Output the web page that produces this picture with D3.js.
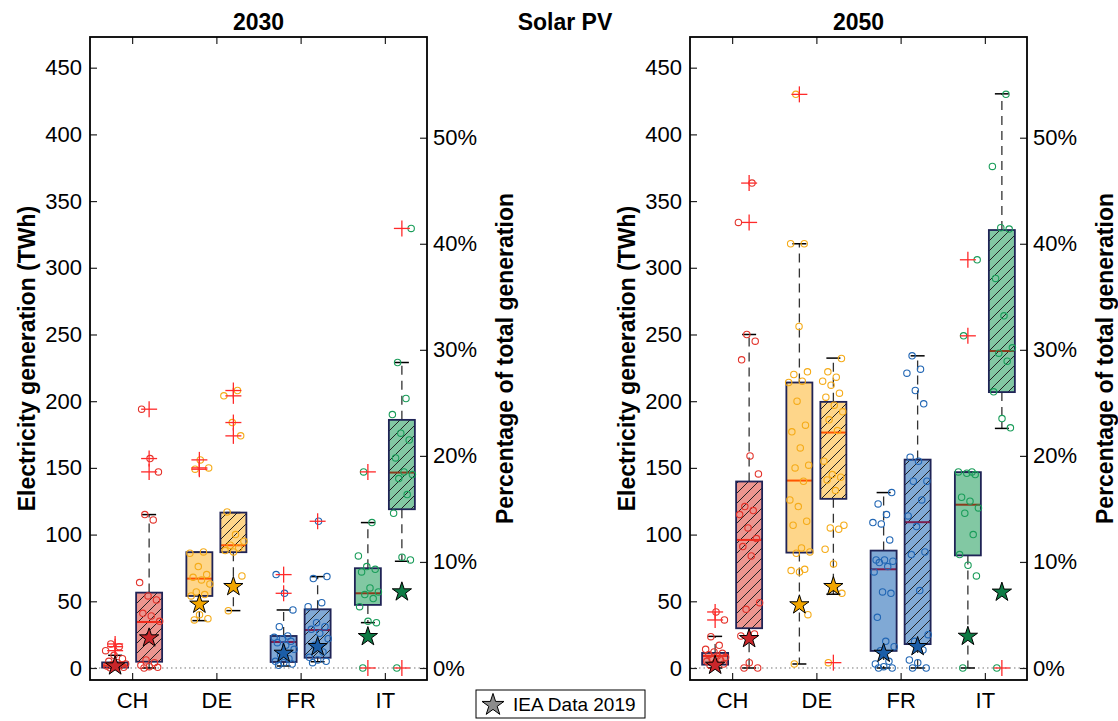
<!DOCTYPE html>
<html>
<head>
<meta charset="utf-8">
<script src="https://cdn.jsdelivr.net/npm/d3@7"></script>
<style>
  body { margin: 0; background: #fff; }
  svg text { font-family: "Liberation Sans", Arial, Helvetica, sans-serif; fill: #000; }
</style>
</head>
<body>
<svg id="chart" width="1118" height="721"></svg>
<script>
// categories and axis ticks
const countries = ["CH", "DE", "FR", "IT"];
const yTicks = [0, 50, 100, 150, 200, 250, 300, 350, 400, 450];
const pctTicks = [0, 10, 20, 30, 40, 50];
const totalGen = 795; // TWh that equals 100 %

// box stats per country: [whisker low, q1, median, q3, whisker high]
// "A" = plain box, "B" = hatched box
const box2030A = [[0, 0.3, 1.8, 4.2, 9.5], [35.5, 54, 67, 86.8, 86.8], [1.5, 4.5, 19.5, 24, 43.5], [34, 47.3, 56, 74.8, 109]];
const box2030B = [[0, 4.7, 34.5, 56.5, 115], [43, 86.8, 92, 116.5, 116.5], [4.7, 7.7, 28.5, 44, 68.5], [80, 119, 146.5, 186, 229]];
const box2050A = [[0, 2.5, 9, 11.3, 23.7], [3, 86.5, 140.5, 214, 318], [0, 12.8, 74, 88, 131.5], [0, 84.4, 122.4, 146.8, 146.8]];
const box2050B = [[0, 29.8, 96, 139.8, 250], [55.3, 126.8, 176.5, 199.5, 232.3], [0, 17.9, 109.3, 156.2, 234], [179.6, 206.8, 237.6, 328.3, 430.4]];

// outliers (red crosses)
const out2030A = [[18, 16, 13], [156, 150, 149], [70, 56], [147, 0]];
const out2030B = [[194, 157, 147], [208, 204, 184, 174], [110], [329.5, 0]];
const out2050A = [[42, 36], [430], [], [306, 249]];
const out2050B = [[363.5, 334], [4], [], [0]];

// scenario values (circles)
const pts2030A = [
  [0.2, 0.5, 1, 1.5, 2, 2.5, 3, 4, 5, 7, 9.5, 13, 16, 18],
  [36, 37, 40, 54, 55, 57, 63, 66, 68, 70, 76, 86, 87, 149, 150, 156],
  [2, 3, 4, 5, 7, 10, 14, 17, 19, 20, 22, 23, 24, 31, 43.5, 56, 70],
  [0, 34, 35, 46, 52, 55, 57, 60, 72, 74, 76, 84, 109, 147]
];
const pts2030B = [
  [0, 0.5, 1, 2, 4, 6, 35, 39, 41, 51, 54, 64, 111, 115, 147, 157, 194],
  [43, 69, 87, 88, 90, 92, 95, 100, 117, 174, 184, 204, 208],
  [4, 5, 6, 8, 12, 17, 22, 26, 29, 31, 34, 46, 49, 67, 68.5, 110],
  [0, 81, 83, 116, 130, 142, 145, 147, 157.5, 171, 176, 190, 202, 229, 329.5]
];
const pts2050A = [
  [2, 3, 4, 5, 6, 7, 8, 9, 10, 11, 12, 14, 17, 23.5, 36, 42],
  [3, 40, 72, 73, 74, 86, 87, 90, 107, 110, 121, 126, 140, 150, 152, 165, 177, 182, 200, 214, 215, 220, 222, 256, 318, 318, 430],
  [0, 0, 1, 3, 5, 13, 16, 20, 38, 56, 57, 72, 76, 79, 80, 81, 81, 96, 108, 109, 115, 123, 131.5],
  [0, 69, 77, 85, 100, 116, 120, 125, 128, 145, 146, 147, 147, 249, 306]
];
const pts2050B = [
  [0, 0, 4, 24, 25.5, 44, 49, 84, 91, 97, 105, 115, 118, 121, 145.5, 159, 231, 245, 250, 334, 363.5],
  [4, 56, 78, 89, 104, 105, 107, 133, 141, 143, 145, 155, 178, 186, 192, 197, 203, 206, 212, 215, 218, 222, 232],
  [0, 0, 4, 6, 13.5, 20, 25, 58, 85, 87, 106, 114, 126, 140, 140, 155, 158, 198, 208, 221, 224, 234],
  [0, 180, 187, 207, 230, 236, 240, 264, 292, 329, 330, 376, 430]
];

// IEA Data 2019 (stars)
const iea2030A = [1.5, 47.8, 11, 23.5];
const iea2030B = [22.5, 61, 16, 57];
const iea2050A = [2, 47.3, 11, 23.7];
const iea2050B = [22, 61, 16, 56.8];

// colours per country
const boxFill = ["#ec958f", "#fed68a", "#80a9d5", "#82c8a3"];
const dotColor = ["#e3342c", "#f5ab18", "#2166b4", "#1a9d5a"];
const medColor = ["#f02a1a", "#ff5500", "#7d1f4f", "#8a3b1c"];
const starFill = ["#c9262a", "#f2a600", "#1b5ea8", "#0e7b45"];

const svg = d3.select("#chart");

// hatch pattern for the second box of each pair
svg.append("defs").append("pattern")
  .attr("id", "hatch")
  .attr("patternUnits", "userSpaceOnUse")
  .attr("width", 10).attr("height", 10)
  .append("path")
  .attr("d", "M-1,1 l2,-2 M0,10 l10,-10 M9,11 l2,-2")
  .attr("stroke", "#222")
  .attr("stroke-width", 1);

const plotTop = 37, plotBottom = 680;
const y = d3.scaleLinear().domain([-9, 473]).range([plotBottom, plotTop]);
const pct = d3.scaleLinear().domain(y.domain().map(v => v / totalGen * 100)).range(y.range());

const offset = 17, halfW = 13, capW = 7;

function jitter(i) {
  return ((i * 0.618034 + 0.27) % 1 - 0.5) * 22;
}

function drawGroup(g, cx, stats, outs, pts, iea, c, hatched) {
  const [wlo, q1, med, q3, whi] = stats;
  // box fill
  g.append("rect")
    .attr("x", cx - halfW).attr("y", y(q3))
    .attr("width", halfW * 2).attr("height", y(q1) - y(q3))
    .attr("fill", boxFill[c]);
  if (hatched) {
    g.append("rect")
      .attr("x", cx - halfW).attr("y", y(q3))
      .attr("width", halfW * 2).attr("height", y(q1) - y(q3))
      .attr("fill", "url(#hatch)");
  }
  // whiskers
  [[q3, whi], [q1, wlo]].forEach(([a, b]) => {
    if (a !== b) {
      g.append("line")
        .attr("x1", cx).attr("x2", cx)
        .attr("y1", y(a)).attr("y2", y(b))
        .attr("stroke", "#333").attr("stroke-width", 1.3)
        .attr("stroke-dasharray", "9,6");
    }
    g.append("line")
      .attr("x1", cx - capW).attr("x2", cx + capW)
      .attr("y1", y(b)).attr("y2", y(b))
      .attr("stroke", "#000").attr("stroke-width", 1.5);
  });
  // median
  g.append("line")
    .attr("x1", cx - halfW).attr("x2", cx + halfW)
    .attr("y1", y(med)).attr("y2", y(med))
    .attr("stroke", medColor[c]).attr("stroke-width", 2);
  // box outline
  g.append("rect")
    .attr("x", cx - halfW).attr("y", y(q3))
    .attr("width", halfW * 2).attr("height", y(q1) - y(q3))
    .attr("fill", "none")
    .attr("stroke", "#1f2356").attr("stroke-width", 1.8);
  // scenario circles
  g.selectAll(null).data(pts).join("circle")
    .attr("cx", (d, i) => cx + jitter(i))
    .attr("cy", d => y(d))
    .attr("r", 3.2)
    .attr("fill", "none")
    .attr("stroke", dotColor[c])
    .attr("stroke-width", 1.1);
  // outlier crosses
  const cross = g.selectAll(null).data(outs).join("g")
    .attr("transform", d => `translate(${cx},${y(d)})`);
  cross.append("line").attr("x1", -8).attr("x2", 8)
    .attr("stroke", "#ff2a2a").attr("stroke-width", 1.3);
  cross.append("line").attr("y1", -8).attr("y2", 8)
    .attr("stroke", "#ff2a2a").attr("stroke-width", 1.3);
  // IEA star
  g.append("path")
    .attr("d", d3.symbol(d3.symbolStar, 115)())
    .attr("transform", `translate(${cx},${y(iea)})`)
    .attr("fill", starFill[c])
    .attr("stroke", "#000").attr("stroke-width", 1);
}

function drawPanel(x0, x1, title, boxA, boxB, outA, outB, ptsA, ptsB, ieaA, ieaB) {
  const x = d3.scalePoint().domain(countries).range([x0, x1]).padding(0.5);
  const g = svg.append("g");

  // zero line
  g.append("line")
    .attr("x1", x0).attr("x2", x1)
    .attr("y1", y(0)).attr("y2", y(0))
    .attr("stroke", "#777").attr("stroke-width", 1)
    .attr("stroke-dasharray", "1.5,3");

  countries.forEach((k, c) => {
    drawGroup(g, x(k) - offset, boxA[c], outA[c], ptsA[c], ieaA[c], c, false);
    drawGroup(g, x(k) + offset, boxB[c], outB[c], ptsB[c], ieaB[c], c, true);
  });

  // axes, ticks inside
  const left = svg.append("g").attr("transform", `translate(${x0},0)`)
    .call(d3.axisLeft(y).tickValues(yTicks).tickSizeInner(-7).tickSizeOuter(0).tickPadding(8));
  const right = svg.append("g").attr("transform", `translate(${x1},0)`)
    .call(d3.axisRight(pct).tickValues(pctTicks).tickSizeInner(-7).tickSizeOuter(0).tickPadding(6)
      .tickFormat(d => d + "%"));
  const bot = svg.append("g").attr("transform", `translate(0,${plotBottom})`)
    .call(d3.axisBottom(x).tickSizeInner(-7).tickSizeOuter(0).tickPadding(12));
  const tp = svg.append("g").attr("transform", `translate(0,${plotTop})`)
    .call(d3.axisTop(x).tickSizeInner(-7).tickSizeOuter(0).tickFormat(""));
  [left, right, bot, tp].forEach(a => {
    a.select(".domain").remove();
    a.selectAll(".tick line").attr("stroke", "#222").attr("stroke-width", 1.2);
    a.selectAll("text").attr("font-size", 22).attr("fill", "#000");
  });

  // frame
  svg.append("rect")
    .attr("x", x0).attr("y", plotTop)
    .attr("width", x1 - x0).attr("height", plotBottom - plotTop)
    .attr("fill", "none").attr("stroke", "#000").attr("stroke-width", 1.8);

  // titles
  svg.append("text")
    .attr("x", (x0 + x1) / 2).attr("y", 30)
    .attr("text-anchor", "middle")
    .attr("font-size", 23).attr("font-weight", "bold")
    .text(title);
  svg.append("text")
    .attr("transform", `translate(${x0 - 55},${(plotTop + plotBottom) / 2}) rotate(-90)`)
    .attr("text-anchor", "middle")
    .attr("font-size", 23).attr("font-weight", "bold")
    .text("Electricity generation (TWh)");
  svg.append("text")
    .attr("transform", `translate(${x1 + 86},${(plotTop + plotBottom) / 2}) rotate(-90)`)
    .attr("text-anchor", "middle")
    .attr("font-size", 23).attr("font-weight", "bold")
    .text("Percentage of total generation");
}

drawPanel(90, 427, "2030", box2030A, box2030B, out2030A, out2030B, pts2030A, pts2030B, iea2030A, iea2030B);
drawPanel(690, 1027, "2050", box2050A, box2050B, out2050A, out2050B, pts2050A, pts2050B, iea2050A, iea2050B);

svg.append("text")
  .attr("x", 565).attr("y", 30)
  .attr("text-anchor", "middle")
  .attr("font-size", 23).attr("font-weight", "bold")
  .text("Solar PV");

// legend
const leg = svg.append("g").attr("transform", "translate(476,690)");
leg.append("rect")
  .attr("width", 169).attr("height", 28)
  .attr("fill", "#fff").attr("stroke", "#000").attr("stroke-width", 1);
leg.append("path")
  .attr("d", d3.symbol(d3.symbolStar, 150)())
  .attr("transform", "translate(17,15)")
  .attr("fill", "#8c8c8c").attr("stroke", "#000").attr("stroke-width", 1);
leg.append("text")
  .attr("x", 37).attr("y", 21)
  .attr("font-size", 19)
  .text("IEA Data 2019");
</script>
</body>
</html>
